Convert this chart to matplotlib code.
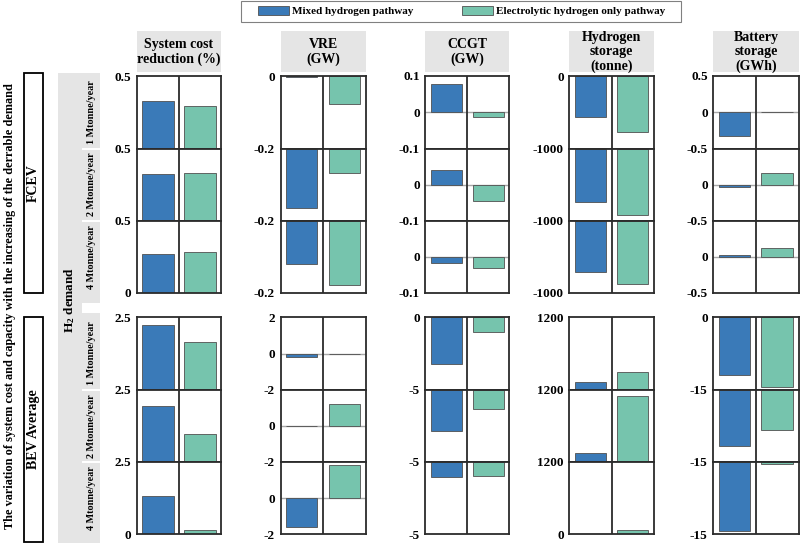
# -*- coding: utf-8 -*-
"""
Variation of system cost and capacity with increasing H2 demand,
drawn as a grid of small bar panels (FCEV / BEV Average blocks).
"""
import numpy as np
import matplotlib.pyplot as plt
from matplotlib.patches import Rectangle
from matplotlib.ticker import FuncFormatter

# =============================================================================
# Data (rows: 1, 2, 4 Mtonne/year)
# =============================================================================
demand_labels = ['1 Mtonne/year', '2 Mtonne/year', '4 Mtonne/year']
block_labels = ['FCEV', 'BEV Average']
column_titles = ['System cost\nreduction (%)', 'VRE\n(GW)', 'CCGT\n(GW)',
                 'Hydrogen\nstorage\n(tonne)', 'Battery\nstorage\n(GWh)']
series_labels = ['Mixed hydrogen pathway', 'Electrolytic hydrogen only pathway']

sys_cost_fcev_mixed = [0.33, 0.32, 0.27]
sys_cost_fcev_elec = [0.295, 0.33, 0.285]
sys_cost_bev_mixed = [2.23, 1.94, 1.33]
sys_cost_bev_elec = [1.65, 0.98, 0.15]

vre_fcev_mixed = [-0.004, -0.166, -0.121]
vre_fcev_elec = [-0.076, -0.068, -0.177]
vre_bev_mixed = [-0.17, 0.0, -1.57]
vre_bev_elec = [0.0, 1.2, 1.82]

ccgt_fcev_mixed = [0.078, 0.041, -0.016]
ccgt_fcev_elec = [-0.013, -0.045, -0.032]
ccgt_bev_mixed = [-3.2, -2.88, -1.04]
ccgt_bev_elec = [-1.04, -1.36, -0.99]

h2_fcev_mixed = [-563, -738, -717]
h2_fcev_elec = [-775, -925, -883]
h2_bev_mixed = [123, 144, 0]
h2_bev_elec = [293, 1100, 76]

bat_fcev_mixed = [-0.33, -0.04, 0.03]
bat_fcev_elec = [0.01, 0.16, 0.115]
bat_bev_mixed = [-11.9, -11.7, -14.3]
bat_bev_elec = [-14.5, -8.4, -0.35]

# y-range of each row panel, per column and block
ylims_fcev = [(0, 0.5), (-0.2, 0), (-0.1, 0.1), (-1000, 0), (-0.5, 0.5)]
ylims_bev = [(0, 2.5), (-2, 2), (-5, 0), (0, 1200), (-15, 0)]

fcev_data = [(sys_cost_fcev_mixed, sys_cost_fcev_elec),
             (vre_fcev_mixed, vre_fcev_elec),
             (ccgt_fcev_mixed, ccgt_fcev_elec),
             (h2_fcev_mixed, h2_fcev_elec),
             (bat_fcev_mixed, bat_fcev_elec)]
bev_data = [(sys_cost_bev_mixed, sys_cost_bev_elec),
            (vre_bev_mixed, vre_bev_elec),
            (ccgt_bev_mixed, ccgt_bev_elec),
            (h2_bev_mixed, h2_bev_elec),
            (bat_bev_mixed, bat_bev_elec)]

# =============================================================================
# Style / layout (pixel coordinates on an 800 x 548 canvas)
# =============================================================================
plt.rcParams['font.family'] = ['Liberation Serif', 'DejaVu Serif']
plt.rcParams['font.weight'] = 'bold'
plt.rcParams['mathtext.fontset'] = 'custom'
plt.rcParams['mathtext.rm'] = 'Liberation Serif:bold'
plt.rcParams['mathtext.bf'] = 'Liberation Serif:bold'

W, H = 800, 548
blue = '#3a7ab8'
green = '#76c4ad'
edge_c = '#505050'
frame_c = '#2b2b2b'
strip_c = '#e5e5e5'

col_x = [(137, 221), (280.5, 365.5), (425.3, 509.3), (569.3, 654),
         (713.3, 798.5)]
block_y = [[76, 148.5, 220.7, 292.8], [317.3, 389.7, 462, 534.3]]


def px_rect(x0, y0, x1, y1):
    return [x0 / W, 1 - y1 / H, (x1 - x0) / W, (y1 - y0) / H]


fig = plt.figure(figsize=(8, 5.48), dpi=100)

# Overlay axes in pixel coordinates for strips, boxes and labels
ov = fig.add_axes([0, 0, 1, 1])
ov.set_xlim(0, W)
ov.set_ylim(H, 0)
ov.axis('off')

fmt = FuncFormatter(lambda v, p: '{:g}'.format(v))

for b, (data, ylims) in enumerate([(fcev_data, ylims_fcev),
                                   (bev_data, ylims_bev)]):
    ys = block_y[b]
    for c, ((mixed, elec), (lo, hi)) in enumerate(zip(data, ylims)):
        x0, x1 = col_x[c]
        for r in range(3):
            ax = fig.add_axes(px_rect(x0, ys[r], x1, ys[r + 1]))
            ax.set_xlim(0, 2)
            ax.set_ylim(lo, hi)
            if lo < 0 < hi:
                ax.axhline(0, color='#a8a8a8', lw=1.0, zorder=1)
            ax.bar([0.5, 1.5], [mixed[r], elec[r]], width=0.74,
                   color=[blue, green], edgecolor=edge_c, lw=0.6,
                   zorder=2)
            ax.axvline(1, color=frame_c, lw=1.3, zorder=3)
            # tick labels: at shared boundaries keep the non-zero one
            ticks = []
            if r == 2 or lo != 0:
                ticks.append(lo)
            if lo < 0 < hi:
                ticks.append(0)
            if r == 0 or lo == 0:
                ticks.append(hi)
            ax.set_yticks(ticks)
            ax.yaxis.set_major_formatter(fmt)
            ax.set_xticks([])
            ax.tick_params(axis='y', length=0, pad=4, labelsize=9.5)
            for s in ax.spines.values():
                s.set_color(frame_c)
                s.set_linewidth(1.3)

# Column headers
for c, title in enumerate(column_titles):
    x0, x1 = col_x[c]
    ov.add_patch(Rectangle((x0, 31), x1 - x0, 41, facecolor=strip_c,
                           edgecolor='none'))
    ov.text((x0 + x1) / 2, 52, title, ha='center', va='center',
            fontsize=10, linespacing=1.12)

# Row strips (H2 demand)
ov.add_patch(Rectangle((57.7, 72.7), 24, 470.3, facecolor=strip_c,
                       edgecolor='none'))
strip_rows = [[(72.7, 147.6), (149.6, 219.6), (221.6, 303)],
              [(313, 388.6), (390.6, 461), (463, 543)]]
for b in range(2):
    for r, (y0, y1) in enumerate(strip_rows[b]):
        ov.add_patch(Rectangle((81.7, y0), 18.3, y1 - y0, facecolor=strip_c,
                               edgecolor='none'))
        yc = (block_y[b][r] + block_y[b][r + 1]) / 2
        ov.text(91, yc, demand_labels[r], rotation=90, ha='center',
                va='center', fontsize=7.3)
ov.text(69.5, 300, r'$\mathbf{H_2}$ demand', rotation=90, ha='center',
        va='center', fontsize=9.5)

# Block boxes (FCEV / BEV Average)
for (y0, y1), label in zip([(73, 292.7), (316.7, 542)], block_labels):
    ov.add_patch(Rectangle((24, y0), 18.7, y1 - y0, facecolor='white',
                           edgecolor='black', lw=1.3))
    ov.text(33.3, (y0 + y1) / 2, label, rotation=90, ha='center',
            va='center', fontsize=10)

ov.text(10, 306, 'The variation of system cost and capacity with the '
        'increasing of the derrable demand', rotation=90, ha='center',
        va='center', fontsize=8.8)

# Legend (drawn in pixel space)
ov.add_patch(Rectangle((241, 0.5), 440, 21.5, facecolor='white',
                       edgecolor='#808080', lw=0.8))
for (px0, tx), col, lab in zip([(258, 292), (462, 496)], [blue, green],
                               series_labels):
    ov.add_patch(Rectangle((px0, 6), 31, 9, facecolor=col, edgecolor=edge_c,
                           lw=0.6))
    ov.text(tx, 11, lab, ha='left', va='center', fontsize=8)

fig.savefig('out.png', dpi=100)
